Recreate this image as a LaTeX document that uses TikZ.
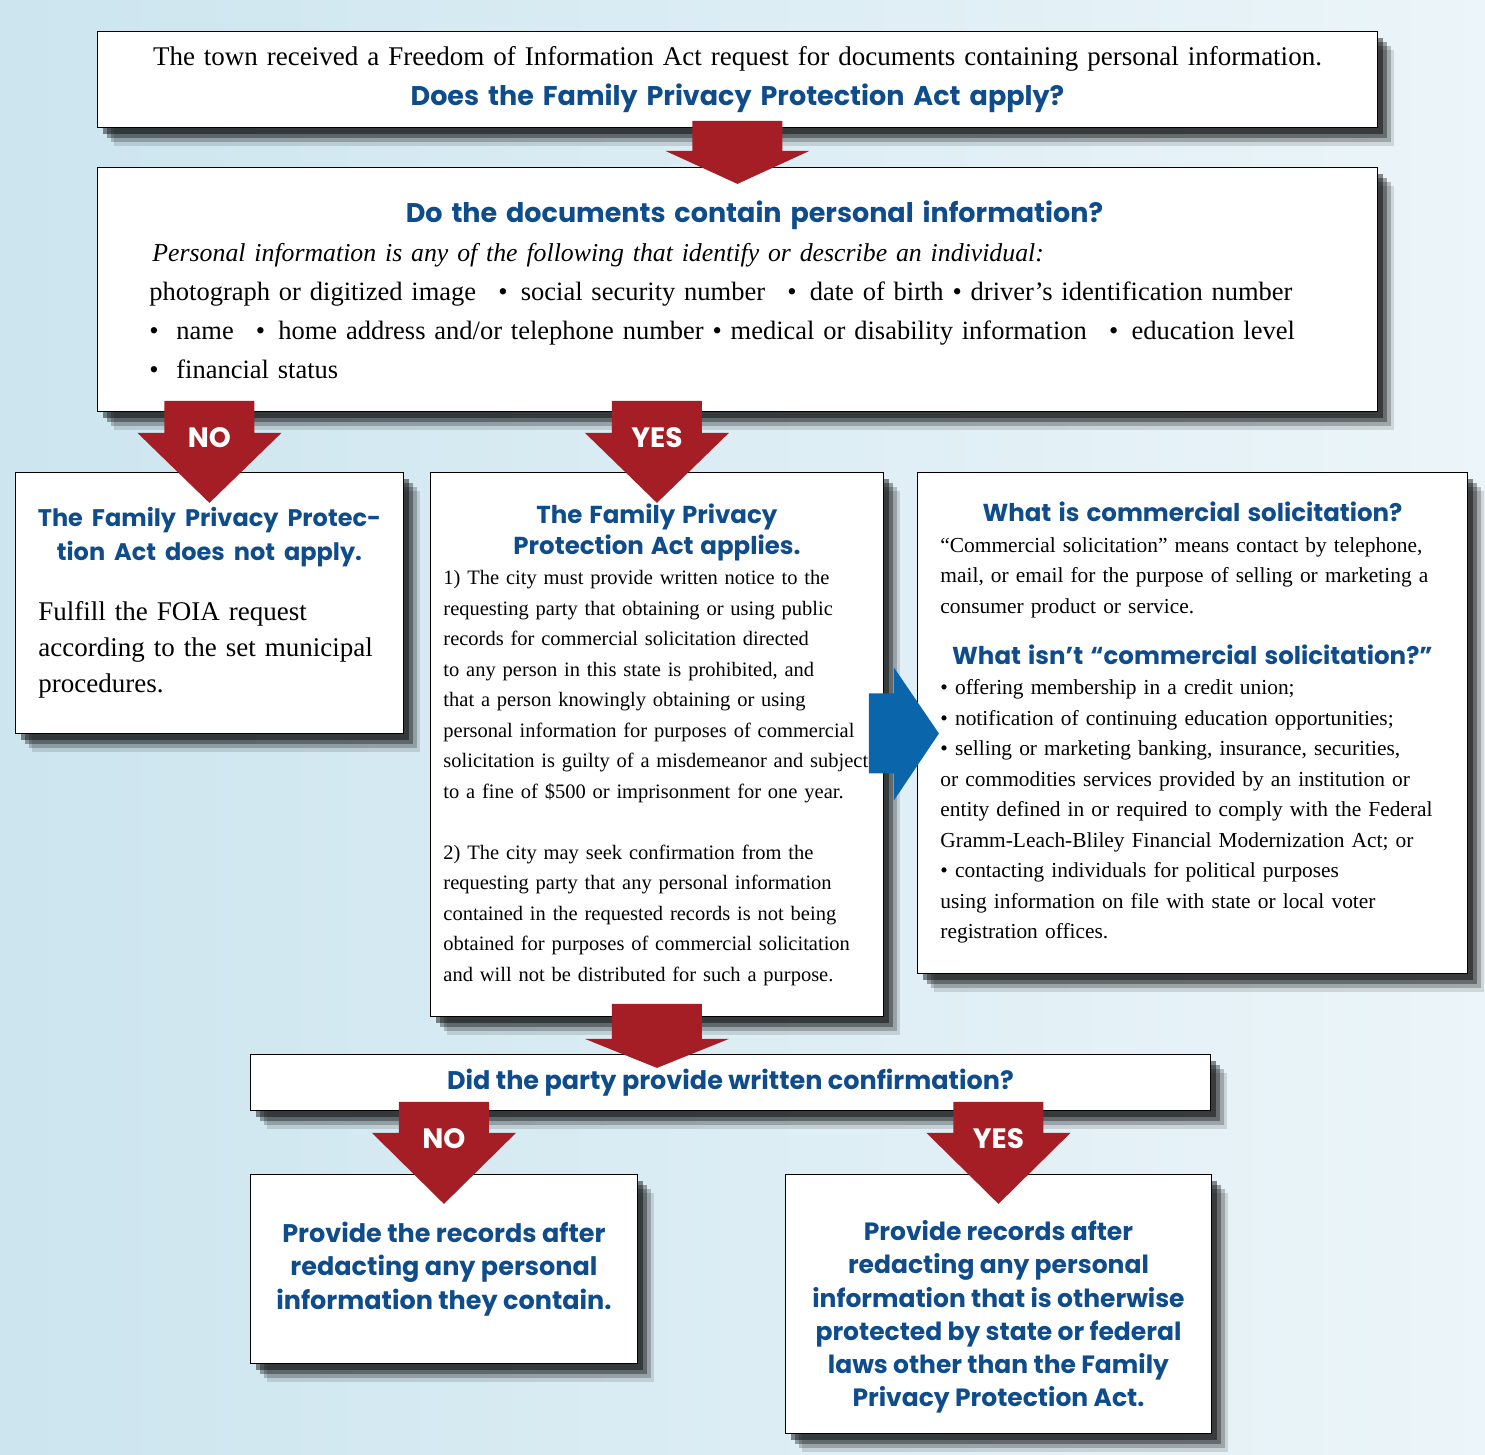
\documentclass[tikz,border=0pt]{standalone}
\usepackage{fontspec}
\setmainfont{Liberation Serif}
\newfontfamily\headfam{Poppins}
\usetikzlibrary{positioning, calc, shadows}

\definecolor{headblue}{RGB}{15,76,140}
\definecolor{arrowred}{RGB}{166,30,37}
\definecolor{arrowblue}{RGB}{10,101,170}
\definecolor{bgleft}{RGB}{204,229,239}
\definecolor{bgright}{RGB}{236,245,249}

\newcommand\headfont{\headfam\bfseries}
% red block arrow: top centre, shaft length, head length, label
\newcommand\downblock[4]{%
  \fill[arrowred] (#1) ++(-45,0) -- ++(0,#2) -- ++(-27,0) -- ++(72,#3) -- ++(72,-#3) -- ++(-27,0) -- ++(0,-#2) -- cycle;
  \if\relax\detokenize{#4}\relax\else
    \node[arrowlabel] at ($(#1)+(0,37)$) {#4};
  \fi}

\begin{document}
\begin{tikzpicture}[
x=1pt, y=-1pt,
box/.style={draw=black, line width=0.9pt, fill=white, anchor=north west, inner ysep=0pt,
  drop shadow={shadow xshift=17pt, shadow yshift=-19pt, opacity=.12, fill=black},
  drop shadow={shadow xshift=14pt, shadow yshift=-15pt, opacity=.22, fill=black},
  drop shadow={shadow xshift=10pt, shadow yshift=-11pt, opacity=.35, fill=black},
  drop shadow={shadow xshift=6pt, shadow yshift=-7pt, opacity=.45, fill=black}},
qbox/.style={box, align=center},
textbox/.style={box, align=left},
headtext/.style={text=headblue},
arrowlabel/.style={text=white, font=\headfont\fontsize{28}{28}\selectfont}
]
\shade[left color=bgleft, right color=bgright] (0,0) rectangle (1485,1455);
\useasboundingbox (0,0) rectangle (1485,1455);

% question boxes
\node[qbox, minimum width=1280pt, minimum height=96pt, text width=1250pt, inner xsep=15pt,
  font=\fontsize{27}{40}\selectfont] (request) at (97,31)
  {The town received a Freedom of Information Act request for documents containing personal information.\\
   {\color{headblue}\headfont\fontsize{27}{27}\selectfont Does the Family Privacy Protection Act apply?}};

\node[textbox, minimum width=1280pt, minimum height=244pt, text width=1176pt, inner xsep=52pt,
  font=\fontsize{26.5}{39}\selectfont] (contains) at (97,167)
  {{\centering\hspace*{34pt}\color{headblue}\headfont\fontsize{27}{27}\selectfont Do the documents contain personal information?\par}
   \hspace*{3pt}{\fontsize{25.8}{39}\selectfont\itshape Personal information is any of the following that identify or describe an individual:}\\
   photograph or digitized image \enspace•\enspace social security number \enspace•\enspace date of birth • driver’s identification number\\
   • \ name \enspace•\enspace home address and/or telephone number • medical or disability information \enspace•\enspace education level\\
   • \ financial status};

% answer boxes
\node[textbox, minimum width=388pt, minimum height=261pt, text width=350pt, inner xsep=19pt,
  font=\fontsize{27}{36}\selectfont] (notapply) at (15,472)
  {{\centering\color{headblue}\headfont\fontsize{24}{34}\selectfont The Family Privacy Protec-\\tion Act does not apply.\par}
   \vspace{24pt}
   \hspace*{4pt}Fulfill the FOIA request\\
   \hspace*{4pt}according to the set municipal\\
   \hspace*{4pt}procedures.};

\node[textbox, minimum width=453pt, minimum height=544pt, text width=427pt, inner xsep=13pt,
  font=\fontsize{20.5}{30.5}\selectfont] (applies) at (430,472)
  {{\centering\color{headblue}\headfont\fontsize{24.5}{31}\selectfont The Family Privacy\\Protection Act applies.\par}
   1) The city must provide written notice to the\\
   requesting party that obtaining or using public\\
   records for commercial solicitation directed\\
   to any person in this state is prohibited, and\\
   that a person knowingly obtaining or using\\
   personal information for purposes of commercial\\
   solicitation is guilty of a misdemeanor and subject\\
   to a fine of \$500 or imprisonment for one year.\\[30.5pt]
   2) The city may seek confirmation from the\\
   requesting party that any personal information\\
   contained in the requested records is not being\\
   obtained for purposes of commercial solicitation\\
   and will not be distributed for such a purpose.};

\node[textbox, minimum width=550pt, minimum height=501pt, text width=504pt, inner xsep=23pt,
  font=\fontsize{21.4}{30.5}\selectfont] (solicit) at (917,472)
  {{\centering\color{headblue}\headfont\fontsize{24.5}{31}\selectfont What is commercial solicitation?\par}
   “Commercial solicitation” means contact by telephone,\\
   mail, or email for the purpose of selling or marketing a\\
   consumer product or service.\par
   \vspace{20pt}
   {\centering\color{headblue}\headfont\fontsize{24.5}{31}\selectfont What isn’t “commercial solicitation?”\par}
   • offering membership in a credit union;\\
   • notification of continuing education opportunities;\\
   • selling or marketing banking, insurance, securities,\\
   or commodities services provided by an institution or\\
   entity defined in or required to comply with the Federal\\
   Gramm-Leach-Bliley Financial Modernization Act; or\\
   • contacting individuals for political purposes\\
   using information on file with state or local voter\\
   registration offices.};

\node[qbox, headtext, minimum width=960pt, minimum height=56pt,
  font=\headfont\fontsize{25.5}{28}\selectfont] (confirm) at (250,1054)
  {Did the party provide written confirmation?};

\node[qbox, headtext, minimum width=387pt, minimum height=189pt,
  font=\headfont\fontsize{25.5}{33.5}\selectfont] (redactall) at (250,1174)
  {Provide the records after\\redacting any personal\\information they contain.};

\node[qbox, headtext, minimum width=426pt, minimum height=259pt,
  font=\headfont\fontsize{25}{33.2}\selectfont] (redactother) at (785,1174)
  {\rule{0pt}{46pt}Provide records after\\redacting any personal\\information that is otherwise\\protected by state or federal\\laws other than the Family\\Privacy Protection Act.};

% block arrows
\coordinate (a1) at ($(request.south)+(0,-7)$);
\downblock{a1}{30}{33}{}
\coordinate (a2) at ($(notapply.north |- contains.south)+(0,-11)$);
\downblock{a2}{32}{70}{NO}
\coordinate (a3) at ($(applies.north |- contains.south)+(0,-11)$);
\downblock{a3}{32}{70}{YES}
\coordinate (a4) at ($(applies.south)+(0,-13)$);
\downblock{a4}{35}{29}{}
\coordinate (a5) at ($(redactall.north |- confirm.south)+(0,-9)$);
\downblock{a5}{31}{71}{NO}
\coordinate (a6) at ($(redactother.north |- confirm.south)+(0,-9)$);
\downblock{a6}{31}{71}{YES}

\coordinate (b1) at ($(applies.east)+(-15,-11)$);
\fill[arrowblue] (b1) ++(0,-40) -- ++(25,0) -- ++(0,-26) -- ++(45,66) -- ++(-45,67) -- ++(0,-27) -- ++(-25,0) -- cycle;
\end{tikzpicture}
\end{document}
